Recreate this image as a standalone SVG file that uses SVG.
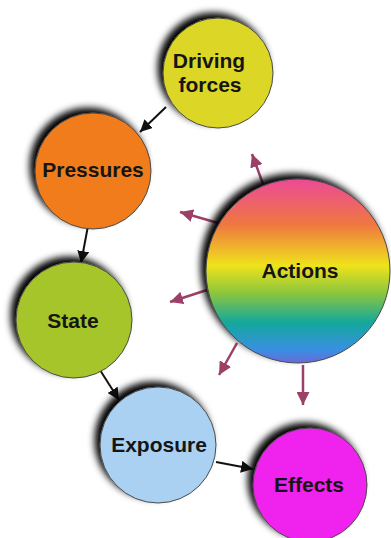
<svg xmlns="http://www.w3.org/2000/svg" width="391" height="538" viewBox="0 0 391 538">
<defs>
<style>
.node circle{stroke:#4a4a4a;stroke-width:1;filter:url(#sh)}
.node text{font-family:"Liberation Sans",Arial,sans-serif;font-weight:bold;font-size:21px;fill:#151515;text-anchor:middle}
.blk{stroke:#111;stroke-width:2;fill:none;marker-end:url(#ab)}
.mar{stroke:#9b4066;stroke-width:2.5;fill:none;marker-end:url(#am)}
</style>
<filter id="sh" x="-30%" y="-30%" width="160%" height="160%">
<feGaussianBlur in="SourceAlpha" stdDeviation="3.5"/>
<feOffset dx="-5" dy="-5" result="b"/>
<feComponentTransfer><feFuncA type="linear" slope="1"/></feComponentTransfer>
<feMerge><feMergeNode/><feMergeNode in="SourceGraphic"/></feMerge>
</filter>
<linearGradient id="rb" x1="0" y1="0" x2="0" y2="1">
<stop offset="0" stop-color="#ec4a97"/>
<stop offset="0.25" stop-color="#ef7840"/>
<stop offset="0.47" stop-color="#efe31c"/>
<stop offset="0.62" stop-color="#8cc63c"/>
<stop offset="0.78" stop-color="#13a89c"/>
<stop offset="0.93" stop-color="#3a8fe2"/>
<stop offset="1" stop-color="#6a6ad8"/>
</linearGradient>
<marker id="ab" markerWidth="12" markerHeight="12" refX="10" refY="5" orient="auto" markerUnits="userSpaceOnUse" viewBox="0 0 10 10">
<path d="M0,0 L10,5 L0,10 z" fill="#111"/>
</marker>
<marker id="am" markerWidth="13" markerHeight="13" refX="10" refY="5" orient="auto" markerUnits="userSpaceOnUse" viewBox="0 0 10 10">
<path d="M0,0 L10,5 L0,10 z" fill="#9b4066"/>
</marker>
</defs>
<rect width="391" height="538" fill="#fff"/>
<g id="connectors">
<line class="blk" x1="166" y1="107" x2="140" y2="132"/>
<line class="blk" x1="88" y1="226" x2="81" y2="263"/>
<line class="blk" x1="100" y1="370" x2="119" y2="400"/>
<line class="blk" x1="216" y1="462" x2="253" y2="469"/>
<line class="mar" x1="263" y1="184" x2="252" y2="154"/>
<line class="mar" x1="218" y1="223" x2="180" y2="212"/>
<line class="mar" x1="207" y1="290" x2="170" y2="302"/>
<line class="mar" x1="237" y1="343" x2="219" y2="375"/>
<line class="mar" x1="303" y1="365" x2="303" y2="405"/>
</g>
<g id="driving-forces" class="node">
<circle cx="218" cy="73" r="55" fill="#dcd628"/>
<text x="209" y="68">Driving</text>
<text x="210" y="92">forces</text>
</g>
<g id="pressures" class="node">
<circle cx="93" cy="171" r="58" fill="#f07b1e"/>
<text x="93" y="177">Pressures</text>
</g>
<g id="actions" class="node">
<circle cx="298" cy="271" r="92" fill="url(#rb)"/>
<text x="300" y="278">Actions</text>
</g>
<g id="state" class="node">
<circle cx="74" cy="320" r="58" fill="#a5c52a"/>
<text x="73" y="328">State</text>
</g>
<g id="exposure" class="node">
<circle cx="158" cy="445" r="58" fill="#aad0f2"/>
<text x="159" y="452">Exposure</text>
</g>
<g id="effects" class="node">
<circle cx="310" cy="485" r="57" fill="#f022ee"/>
<text x="309" y="492">Effects</text>
</g>
</svg>
